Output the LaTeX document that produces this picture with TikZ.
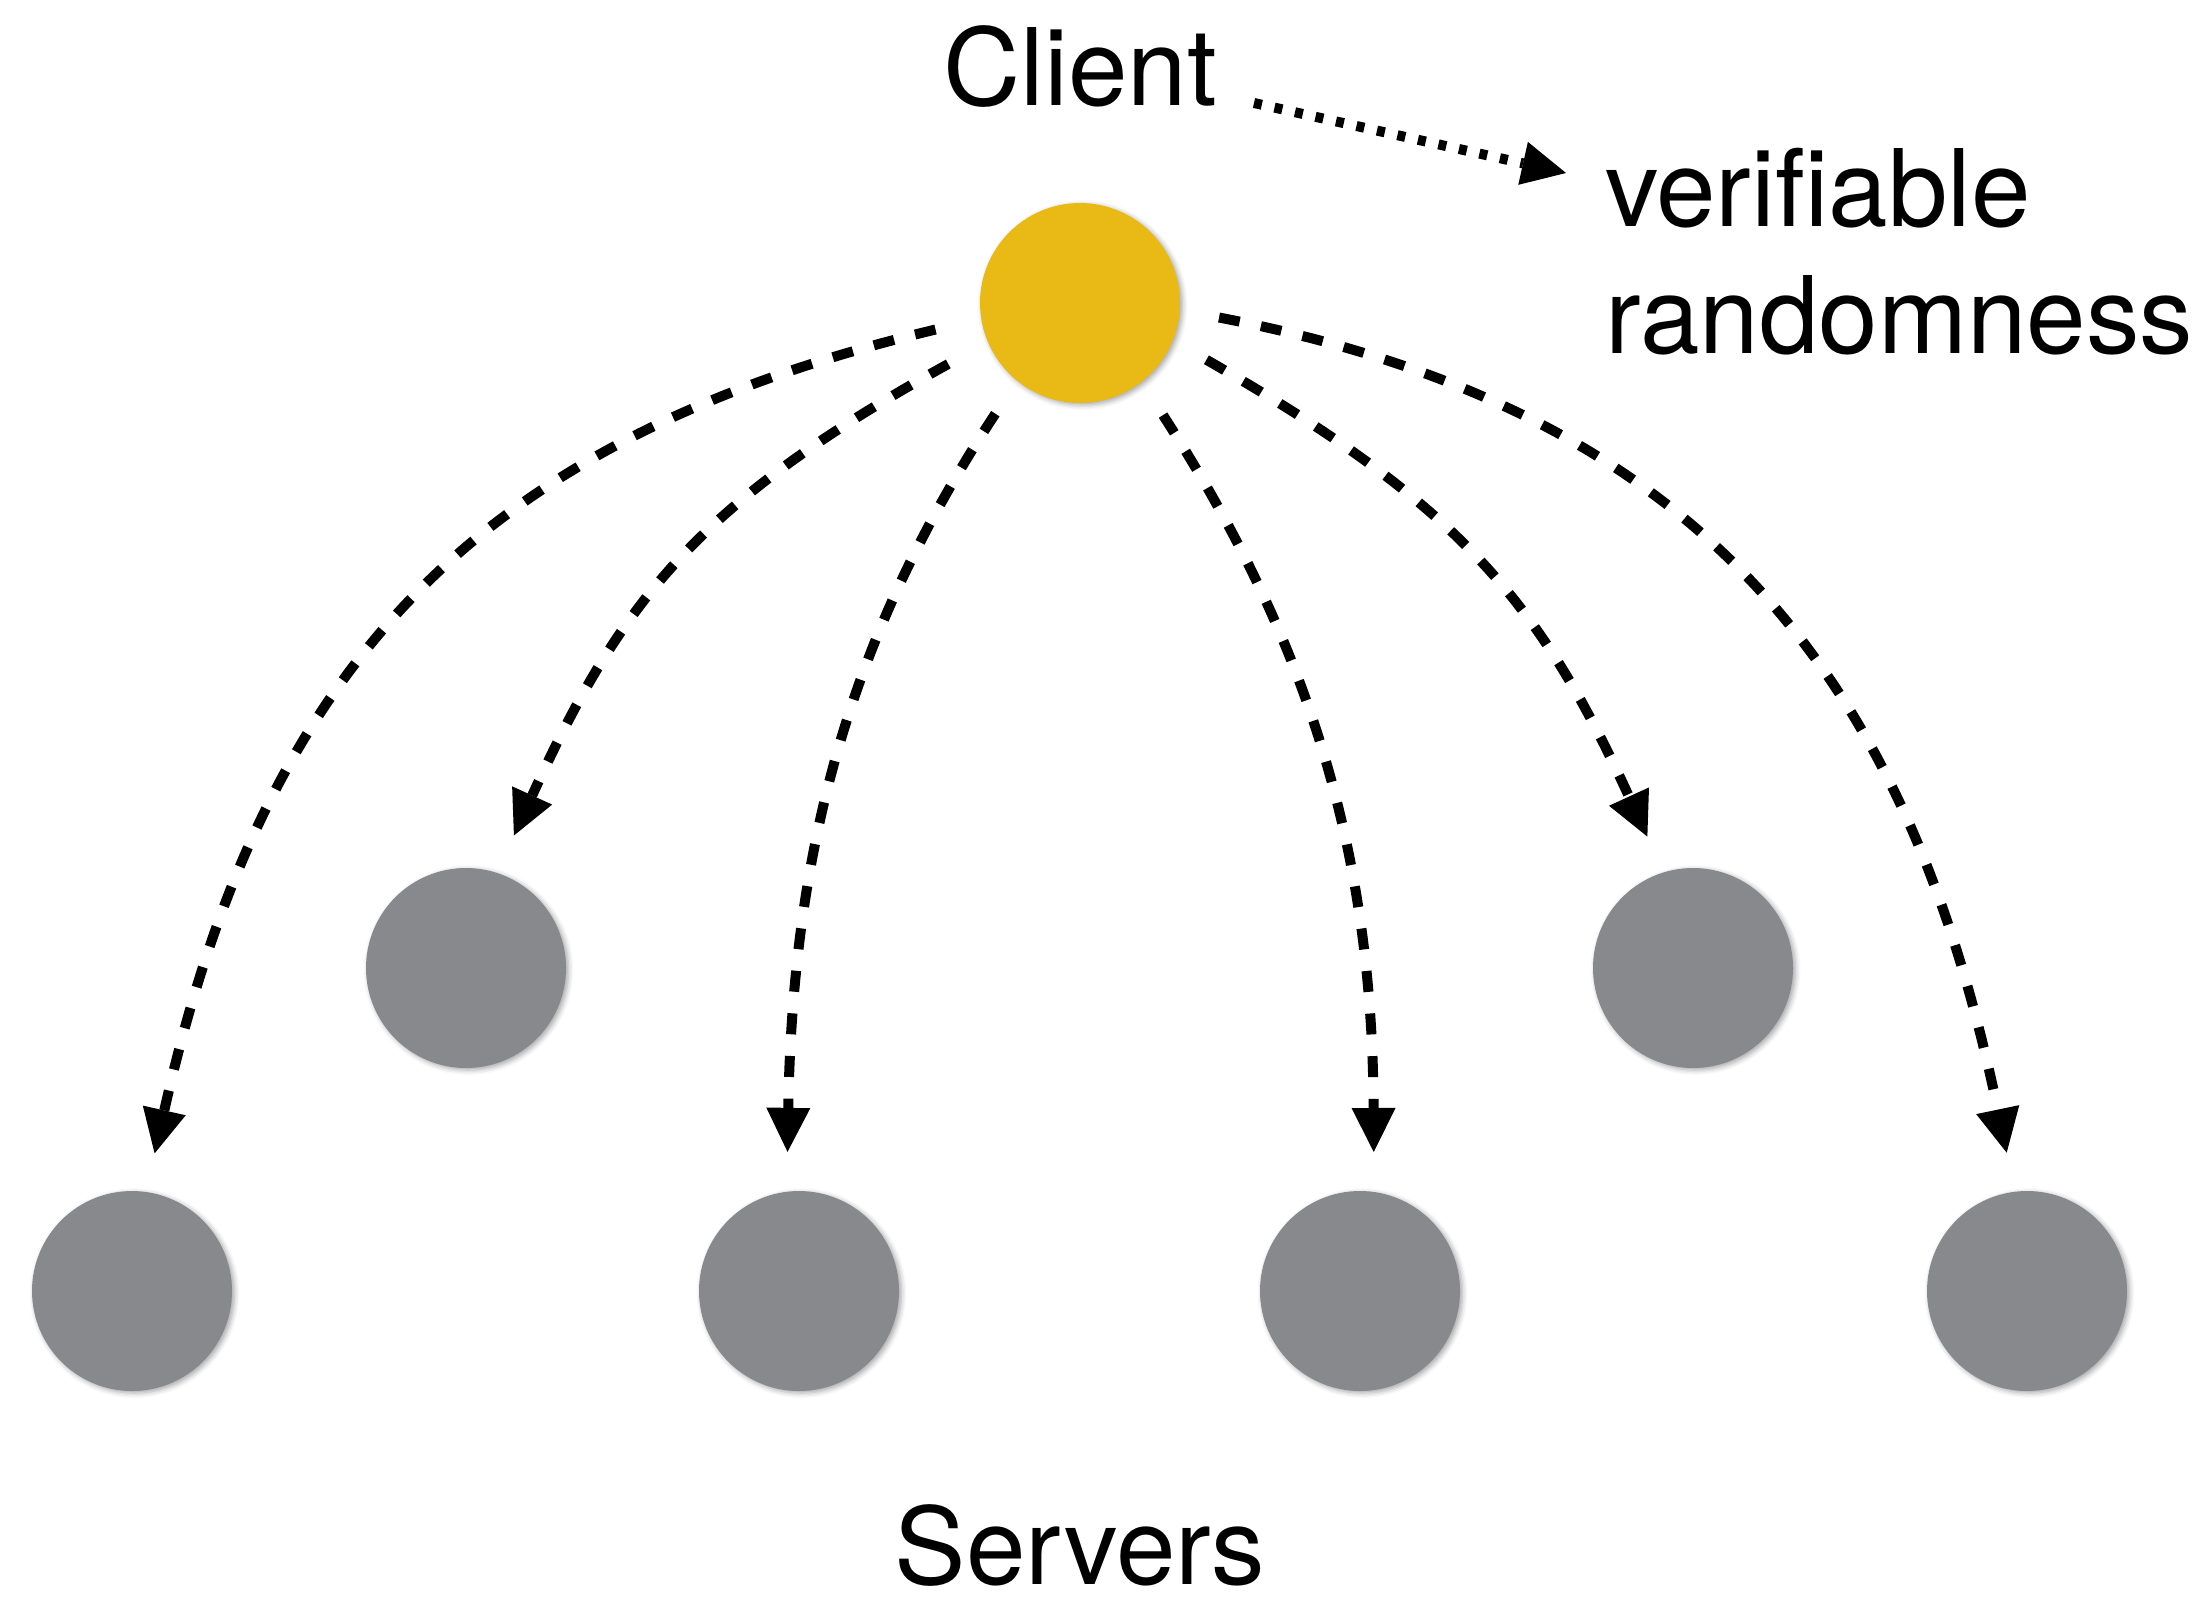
\documentclass[tikz,border=0pt]{standalone}
\usepackage{fontspec}
\setmainfont{TeX Gyre Heros}
\usetikzlibrary{arrows.meta,shadows.blur}
\definecolor{clientyellow}{RGB}{233,186,22}
\definecolor{servergray}{RGB}{135,137,141}
\begin{document}
\begin{tikzpicture}[x=1pt,y=-1pt,
  ball/.style={circle, minimum size=200pt, inner sep=0pt, outer sep=0pt,
    blur shadow={shadow xshift=2.5pt, shadow yshift=-2pt, shadow blur radius=5pt, shadow opacity=35}},
  clientball/.style={ball, fill=clientyellow},
  serverball/.style={ball, fill=servergray},
  lbl/.style={inner sep=0pt, outer sep=0pt, font=\fontsize{107}{128}\selectfont},
  tiparrow/.style={-{Triangle[length=44pt, width=44pt, line width=0pt]}},
  fanout/.style={draw, line width=10pt, dash pattern=on 21pt off 21.7pt, tiparrow},
  dotlink/.style={draw, line width=10pt, dash pattern=on 8pt off 13pt, tiparrow}]
\useasboundingbox (0,0) rectangle (2207,1596);

% client and servers
\node[clientball] (client) at (1080,303) {};
\node[serverball] (s1) at (132,1291) {};
\node[serverball] (s2) at (466,968) {};
\node[serverball] (s3) at (799,1291) {};
\node[serverball] (s4) at (1360,1291) {};
\node[serverball] (s5) at (1693,968) {};
\node[serverball] (s6) at (2027,1291) {};

% labels
\node[lbl, anchor=base] (clientlbl) at (1080,105) {Client};
\node[lbl, anchor=base west] (vr1) at (1605,226) {verifiable};
\node[lbl, anchor=base west] (vr2) at (1605,353) {randomness};
\node[lbl, anchor=base] (serverslbl) at (1080,1584) {Servers};

% dotted link from the client label to the output
\coordinate (dstart) at (1254,103);
\coordinate (dend) at (1566,173);
\draw[dotlink] (dstart) -- (dend);

% dashed fan-out from the client to each server
\draw[fanout, shorten <=47pt, shorten >=39.6pt]
  (client.189.3) .. controls (467.2,441.1) and (262.3,675.1) .. (s1.82.4);
\draw[fanout, shorten <=45.3pt, shorten >=41.1pt]
  (client.203.7) .. controls (699,501.6) and (621.4,599.4) .. (s2.72.9);
\draw[fanout, shorten <=39.5pt, shorten >=39.9pt]
  (client.231.5) .. controls (852.7,630.3) and (792.9,841.9) .. (s3.97.5);
\draw[fanout, shorten <=39.6pt, shorten >=40pt]
  (client.308.1) .. controls (1303.7,633.7) and (1372.4,841.8) .. (s4.82.9);
\draw[fanout, shorten <=38.8pt, shorten >=39.4pt]
  (client.338.7) .. controls (1458.7,504.3) and (1538.6,599.6) .. (s5.107.4);
\draw[fanout, shorten <=40pt, shorten >=39.9pt]
  (client.356.5) .. controls (1699.2,409.8) and (1906.7,672.8) .. (s6.97);
\end{tikzpicture}
\end{document}
